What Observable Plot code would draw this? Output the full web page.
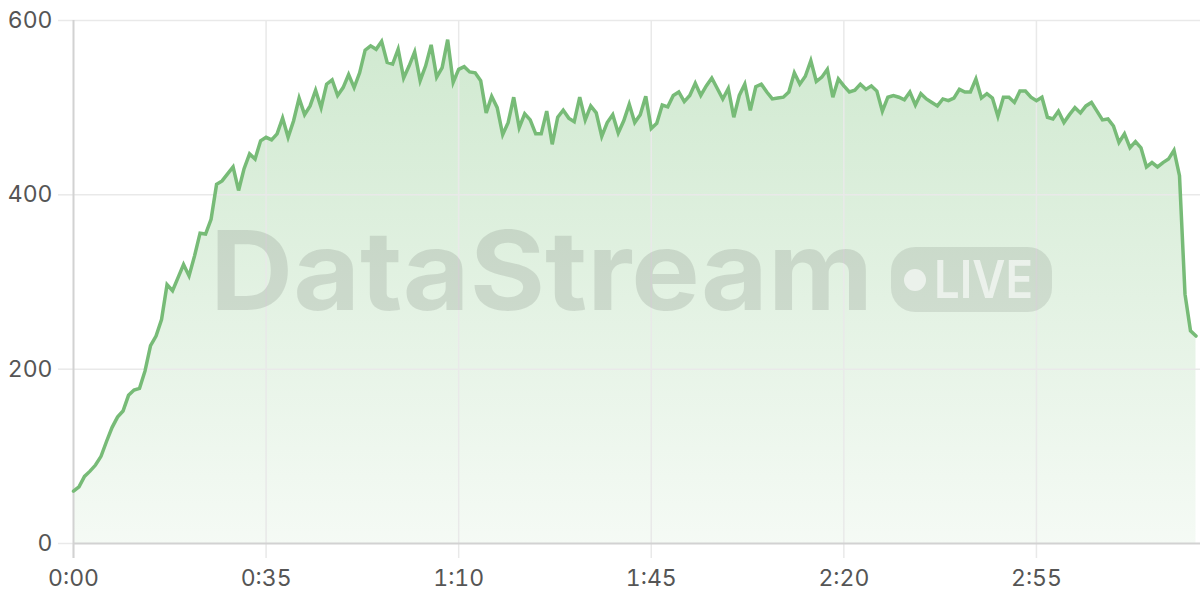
<!DOCTYPE html>
<html>
<head>
<meta charset="utf-8">
<script src="https://cdn.jsdelivr.net/npm/d3@7"></script>
<script src="https://cdn.jsdelivr.net/npm/@observablehq/plot@0.6"></script>
<style>
  html, body { margin: 0; padding: 0; background: #ffffff; }
  #chart { position: relative; width: 1200px; height: 600px; }
</style>
</head>
<body>
<div id="chart"></div>
<script>
// ---- data (seconds since start, value) ----
const seconds = d3.range(0, 205);
const values = [
  60, 65, 77, 83, 90, 100, 117, 133, 145, 152,
  170, 176, 178, 198, 227, 238, 257, 297, 290, 305,
  320, 307, 330, 356, 355, 372, 412, 416, 424, 432,
  405, 430, 447, 441, 462, 466, 463, 470, 488, 466,
  485, 511, 492, 502, 520, 500, 527, 532, 514, 523,
  538, 523, 540, 566, 571, 567, 576, 552, 550, 567,
  534, 548, 564, 531, 548, 572, 535, 546, 578, 529,
  544, 547, 541, 540, 531, 494, 513, 500, 469, 483,
  512, 477, 493, 486, 470, 470, 496, 458, 489, 497,
  488, 484, 512, 486, 502, 494, 467, 483, 492, 471,
  485, 504, 483, 492, 513, 476, 482, 503, 501, 514,
  518, 507, 514, 528, 514, 525, 534, 522, 510, 522,
  489, 514, 527, 497, 524, 527, 518, 510, 511, 512,
  518, 540, 527, 536, 554, 530, 535, 544, 512, 533,
  525, 518, 520, 527, 521, 525, 519, 496, 512, 514,
  512, 509, 518, 503, 516, 510, 506, 502, 510, 508,
  511, 521, 518, 518, 533, 511, 516, 511, 490, 512,
  512, 506, 519, 519, 512, 508, 512, 489, 487, 496,
  483, 492, 500, 494, 502, 506, 496, 486, 487, 479,
  460, 470, 454, 461, 454, 432, 437, 432, 437, 441,
  451, 422, 286, 244, 238
];
const xTicks = [0, 35, 70, 105, 140, 175];
const yTicks = [0, 200, 400, 600];
const watermarkText = "DataStream";
const badgeText = "LIVE";

const data = seconds.map((t, i) => ({t, v: values[i]}));
const fmt = s => `${Math.floor(s / 60)}:${String(s % 60).padStart(2, "0")}`;

const lineColor = "#77bb77";
const gridColor = "#e9e9e9";
const axisColor = "#d2d2d2";
const fontStack = "Inter, 'Noto Sans', sans-serif";

const chart = Plot.plot({
  width: 1200,
  height: 600,
  marginLeft: 73,
  marginRight: 0,
  marginTop: 20,
  marginBottom: 57,
  style: {fontFamily: fontStack, fontSize: "23px", color: "#555555", background: "#ffffff"},
  x: {domain: [0, 204], range: [73, 1195.5], label: null},
  y: {domain: [0, 600], label: null},
  marks: [
    Plot.areaY(data, {x: "t", y: "v", fill: "url(#areaGrad)"}),
    Plot.gridY(yTicks.filter(d => d > 0), {stroke: gridColor, strokeOpacity: 1, strokeWidth: 1.5}),
    Plot.gridX(xTicks.filter(d => d > 0), {stroke: gridColor, strokeOpacity: 1, strokeWidth: 1.5}),
    Plot.axisY({ticks: yTicks, label: null, tickSize: 15, tickPadding: 6, stroke: gridColor, strokeOpacity: 1, strokeWidth: 1.5}),
    Plot.axisX({ticks: xTicks, label: null, tickFormat: fmt, tickSize: 15, tickPadding: 11, stroke: gridColor, strokeOpacity: 1, strokeWidth: 1.5}),
    Plot.ruleX([0], {stroke: axisColor, strokeWidth: 2, y2: 0, y1: 600, insetBottom: -15}),
    Plot.ruleY([0], {stroke: axisColor, strokeWidth: 2}),
    Plot.lineY(data, {x: "t", y: "v", stroke: lineColor, strokeWidth: 3.5, strokeLinejoin: "miter", strokeMiterlimit: 4})
  ]
});

// gradient definition for the area
const ns = "http://www.w3.org/2000/svg";
const defs = document.createElementNS(ns, "defs");
defs.innerHTML = `<linearGradient id="areaGrad" x1="0" y1="0" x2="0" y2="1">
  <stop offset="0%" stop-color="#6dbb6d" stop-opacity="0.32"/>
  <stop offset="100%" stop-color="#6dbb6d" stop-opacity="0.07"/>
</linearGradient>`;
chart.insertBefore(defs, chart.firstChild);

// watermark
const wm = document.createElementNS(ns, "g");
wm.setAttribute("pointer-events", "none");
wm.setAttribute("text-anchor", "start");
wm.innerHTML = `
  <text x="210" y="310" text-anchor="start" font-family="${fontStack.replace(/"/g, "")}" font-weight="700" font-size="110" fill="#000" fill-opacity="0.1" textLength="663" lengthAdjust="spacingAndGlyphs">${watermarkText}</text>
  <rect x="891" y="247" width="161" height="65" rx="24" fill="#000" fill-opacity="0.09"/>
  <circle cx="915" cy="280" r="11" fill="#fff" fill-opacity="0.6"/>
  <text x="934" y="298" text-anchor="start" font-family="${fontStack.replace(/"/g, "")}" font-weight="600" font-size="52" fill="#fff" fill-opacity="0.6" textLength="99" lengthAdjust="spacingAndGlyphs">${badgeText}</text>`;
chart.appendChild(wm);

document.getElementById("chart").appendChild(chart);
</script>
</body>
</html>
